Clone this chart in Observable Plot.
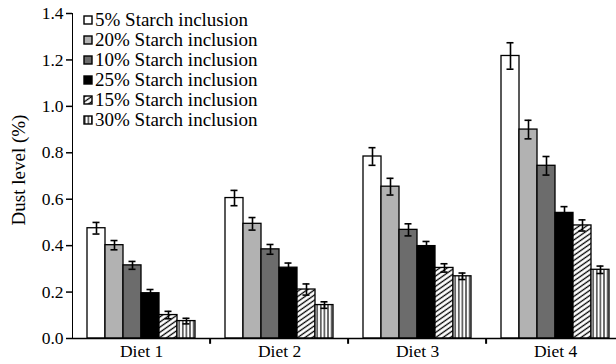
<!DOCTYPE html>
<html>
<head>
<meta charset="utf-8">
<script src="https://cdn.jsdelivr.net/npm/d3@7"></script>
<script src="https://cdn.jsdelivr.net/npm/@observablehq/plot@0.6"></script>
<style>
  html, body { margin: 0; padding: 0; background: #fff; }
  #wrap { position: relative; width: 616px; height: 364px; font-family: "Liberation Serif", "Times New Roman", serif; }
  #legend { position: absolute; left: 83px; top: 10px; font-size: 19px; line-height: 20px; color: #000; }
  #legend .row { display: flex; align-items: center; height: 20px; white-space: nowrap; }
  #legend svg { margin-right: 2px; }
  #chart svg text { font-family: "Liberation Serif", "Times New Roman", serif; }
  #chart svg [aria-label^="y-axis"] path, #chart svg [aria-label^="y-axis"] line,
  #chart svg .domain, #chart svg .tick line { stroke-width: 1.5px; }
</style>
</head>
<body>
<svg width="0" height="0" style="position:absolute">
  <defs>
    <pattern id="hatch15" patternUnits="userSpaceOnUse" width="10" height="4.2" patternTransform="rotate(-35)">
      <rect width="10" height="4.2" fill="#fff"></rect>
      <line x1="0" y1="2.1" x2="10" y2="2.1" stroke="#000" stroke-width="1.3"></line>
    </pattern>
    <pattern id="vert30" patternUnits="userSpaceOnUse" width="3.6" height="10">
      <rect width="3.6" height="10" fill="#fff"></rect>
      <line x1="1.8" y1="0" x2="1.8" y2="10" stroke="#000" stroke-width="1.1"></line>
    </pattern>
  </defs>
</svg>
<div id="wrap"><div id="chart"></div><div id="legend"></div></div>
<script>
// ---- data ----
const diets = ["Diet 1", "Diet 2", "Diet 3", "Diet 4"];
const series = ["5% Starch inclusion", "20% Starch inclusion", "10% Starch inclusion",
                "25% Starch inclusion", "15% Starch inclusion", "30% Starch inclusion"];
const s5  = [0.475, 0.605, 0.784, 1.217];
const s20 = [0.402, 0.494, 0.654, 0.900];
const s10 = [0.315, 0.384, 0.468, 0.744];
const s25 = [0.195, 0.305, 0.398, 0.541];
const s15 = [0.101, 0.211, 0.304, 0.487];
const s30 = [0.075, 0.144, 0.268, 0.296];
const e5  = [0.025, 0.033, 0.038, 0.057];
const e20 = [0.020, 0.027, 0.036, 0.040];
const e10 = [0.017, 0.021, 0.026, 0.040];
const e25 = [0.016, 0.020, 0.020, 0.027];
const e15 = [0.016, 0.024, 0.018, 0.024];
const e30 = [0.012, 0.014, 0.014, 0.016];
const yTicks = [0, 0.2, 0.4, 0.6, 0.8, 1.0, 1.2, 1.4];
const yLabel = "Dust level (%)";

// ---- styles ----
const fills = ["#ffffff", "#b2b2b2", "#6c6c6c", "#000000", "url(#hatch15)", "url(#vert30)"];

const values = [s5, s20, s10, s25, s15, s30];
const errs = [e5, e20, e10, e25, e15, e30];
const rows = diets.flatMap((d, i) => series.map((s, j) => ({
  diet: d, series: s, value: values[j][i], err: errs[j][i]
})));

const barMarks = series.map((s, j) => Plot.barY(rows, {
  filter: d => d.series === s,
  x: "series", y: "value", fill: fills[j], stroke: "#000", strokeWidth: 1.3
}));

const chart = Plot.plot({
  width: 616,
  height: 364,
  marginLeft: 71,
  marginRight: 0,
  marginTop: 13,
  marginBottom: 26,
  style: { fontFamily: "'Liberation Serif', 'Times New Roman', serif", fontSize: "17.5px", color: "#000", background: "#fff" },
  facet: { data: rows, x: "diet", marginLeft: 0, marginRight: 0 },
  fx: { domain: diets, range: [71.5, 623.5], padding: 0, label: null, tickSize: 0, tickPadding: 6 },
  x: { domain: series, paddingInner: 0, paddingOuter: 0.8, align: 0.5, axis: null },
  y: { domain: [0, 1.4], ticks: yTicks, tickFormat: d3.format(".1f"), tickSize: 6, tickPadding: 3,
       line: true, label: null },
  marks: [
    ...barMarks,
    Plot.ruleX(rows, { x: "series", y1: d => d.value - d.err, y2: d => d.value + d.err, stroke: "#000", strokeWidth: 1.6 }),
    Plot.tickY(rows, { x: "series", y: d => d.value + d.err, stroke: "#000", strokeWidth: 1.6, insetLeft: 5.5, insetRight: 5.5 }),
    Plot.tickY(rows, { x: "series", y: d => d.value - d.err, stroke: "#000", strokeWidth: 1.6, insetLeft: 5.5, insetRight: 5.5 }),
    Plot.ruleY([0], { stroke: "#000", strokeWidth: 1.5 }),
    Plot.ruleX([series[series.length - 1]], { x: d => d, y1: 0, y2: -0.025, dx: 23.6, stroke: "#000", strokeWidth: 2 })
  ]
});
document.getElementById("chart").appendChild(chart);

// y-axis title (rotated, centred on the axis)
d3.select(chart).append("text")
  .attr("transform", "translate(18,170) rotate(-90)")
  .attr("text-anchor", "middle")
  .attr("dy", "0.35em")
  .attr("fill", "#000")
  .style("font-size", "19px")
  .text(yLabel);

// ---- legend ----
const legend = document.getElementById("legend");
series.forEach((s, j) => {
  const row = document.createElement("div");
  row.className = "row";
  row.innerHTML = `<svg width="10" height="10"><rect x="1" y="1" width="8" height="8" fill="${fills[j]}" stroke="#000" stroke-width="1.4"></rect></svg><span>${s}</span>`;
  legend.appendChild(row);
});
</script>
</body>
</html>
